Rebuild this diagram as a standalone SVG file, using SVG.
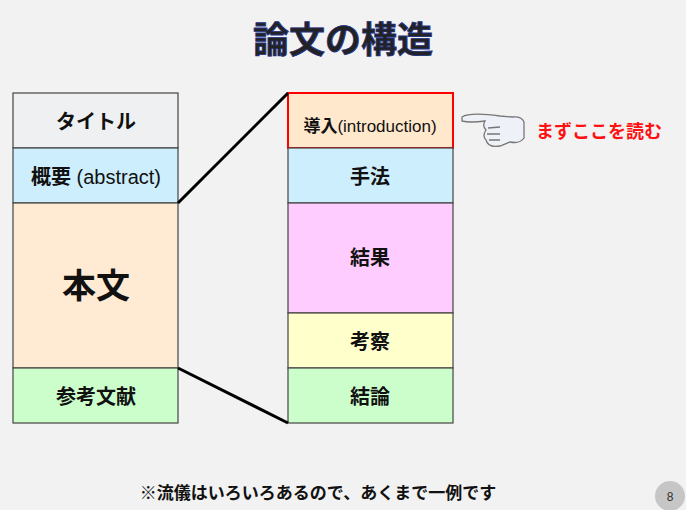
<svg xmlns="http://www.w3.org/2000/svg" width="686" height="510" viewBox="0 0 686 510">
<style>
text{font-family:"Liberation Sans","Noto Sans CJK JP",sans-serif;text-anchor:middle;fill:#111}
.b{stroke:#444;stroke-width:1.2}
.l{font-size:20px;font-weight:bold}
.c{stroke:#000;stroke-width:3;fill:none}
</style>
<rect width="686" height="510" fill="#f2f2f2"/>
<text x="343" y="53" style="font-size:36px;font-weight:bold;fill:#222;stroke:#223388;stroke-width:0.8">論文の構造</text>
<g id="left">
<g id="title-box"><rect class="b" x="13" y="93" width="165" height="55" fill="#eef0f1"/><text class="l" x="96" y="129">タイトル</text></g>
<g id="abstract"><rect class="b" x="13" y="148" width="165" height="55" fill="#cdeefc"/><text x="96" y="184" style="font-size:20px"><tspan font-weight="bold">概要</tspan> (abstract)</text></g>
<g id="honbun"><rect class="b" x="13" y="203" width="165" height="165" fill="#ffead3"/><text x="96" y="298" style="font-size:34px;font-weight:bold">本文</text></g>
<g id="refs"><rect class="b" x="13" y="368" width="165" height="55" fill="#ccfecc"/><text class="l" x="96" y="404">参考文献</text></g>
</g>
<g id="right">
<g id="intro"><rect x="288" y="93" width="165" height="55" fill="#ffe8cc" stroke="#ff0000" stroke-width="2"/><text x="370" y="132" style="font-size:17px"><tspan font-weight="bold">導入</tspan>(introduction)</text></g>
<g id="method"><rect class="b" x="288" y="148" width="165" height="55" fill="#cdeefc"/><text class="l" x="370" y="184">手法</text></g>
<g id="result"><rect class="b" x="288" y="203" width="165" height="110" fill="#ffccff"/><text class="l" x="370" y="265">結果</text></g>
<g id="discussion"><rect class="b" x="288" y="313" width="165" height="55" fill="#ffffcc"/><text class="l" x="370" y="349">考察</text></g>
<g id="conclusion"><rect class="b" x="288" y="368" width="165" height="55" fill="#ccfecc"/><text class="l" x="370" y="404">結論</text></g>
</g>
<g id="connectors">
<line class="c" x1="178" y1="203" x2="288" y2="93"/>
<line class="c" x1="178" y1="368" x2="288" y2="423"/>
</g>
<g id="hand" stroke="#777" stroke-width="1.3" fill="#ffffff">
<path d="M462,117 Q470,112 500,116 L512,117 Q522,116 524,122 L524,138 Q520,144 510,142 L500,146 Q488,148 486,140 Q482,136 486,130 Q482,126 485,121 Q470,123 462,121 Z" fill="#eef2f8"/>
<path d="M488,128 L500,127 M487,134 L500,134 M489,140 L500,140" fill="none"/>
</g>
<text x="599" y="138" style="font-size:18px;font-weight:bold;fill:#ff1111">まずここを読む</text>
<text x="318" y="499" style="font-size:17px;font-weight:bold">※流儀はいろいろあるので、あくまで一例です</text>
<circle cx="670" cy="496" r="15" fill="#c6c6c6"/>
<text x="670" y="501" style="font-size:12px;fill:#333">8</text>
</svg>
